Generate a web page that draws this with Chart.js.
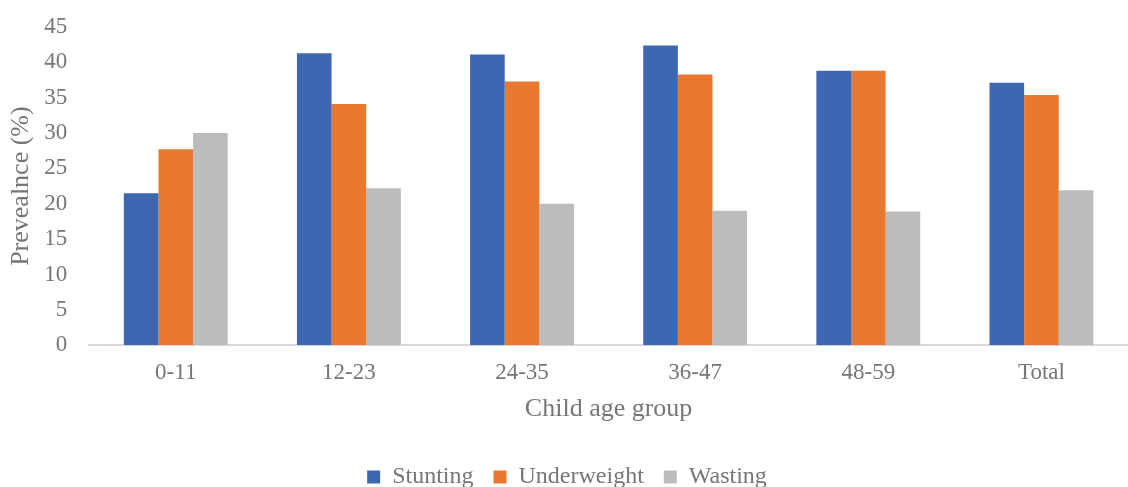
<!DOCTYPE html>
<html>
<head>
<meta charset="utf-8">
<script src="https://cdn.jsdelivr.net/npm/chart.js@4"></script>
<style>
  html, body { margin: 0; padding: 0; background: #ffffff; }
  #wrap { width: 1128px; height: 487px; position: relative; }
</style>
</head>
<body>
<div id="wrap"><canvas id="chart"></canvas></div>
<script>
// Prevalence of malnutrition by child age group (months)
const ageGroups = ['0-11', '12-23', '24-35', '36-47', '48-59', 'Total'];
const stunting = [21.5, 41.3, 41.1, 42.4, 38.8, 37.1];
const underweight = [27.7, 34.1, 37.3, 38.3, 38.8, 35.4];
const wasting = [30.0, 22.2, 20.0, 19.0, 18.9, 21.9];

const textColor = '#767676';
const fontFamily = '"Liberation Serif", "Times New Roman", serif';

new Chart(document.getElementById('chart'), {
  type: 'bar',
  data: {
    labels: ageGroups,
    datasets: [
      { label: 'Stunting', data: stunting, backgroundColor: '#3D67B0' },
      { label: 'Underweight', data: underweight, backgroundColor: '#E8792F' },
      { label: 'Wasting', data: wasting, backgroundColor: '#BBBCBE' }
    ]
  },
  options: {
    responsive: true,
    maintainAspectRatio: false,
    animation: false,
    datasets: { bar: { categoryPercentage: 0.6, barPercentage: 1.0 } },
    layout: { padding: { top: 0, right: 0, bottom: -12, left: 6 } },
    plugins: {
      tooltip: { enabled: false },
      legend: {
        position: 'bottom',
        labels: {
          color: textColor,
          font: { family: fontFamily, size: 24 },
          boxWidth: 13,
          boxHeight: 13,
          padding: 20
        }
      }
    },
    scales: {
      x: {
        grid: { display: false, drawTicks: false },
        border: { display: true, color: '#D9D9D9', width: 2 },
        ticks: { color: textColor, font: { family: fontFamily, size: 23 }, padding: 14 },
        title: {
          display: true,
          text: 'Child age group',
          color: textColor,
          font: { family: fontFamily, size: 26 },
          padding: { top: -7, bottom: 20 }
        }
      },
      y: {
        min: 0,
        max: 45,
        grid: { display: false, drawTicks: false },
        border: { display: false },
        ticks: { stepSize: 5, color: textColor, font: { family: fontFamily, size: 23 }, padding: 22 },
        title: {
          display: true,
          text: 'Prevealnce (%)',
          color: textColor,
          font: { family: fontFamily, size: 26 },
          padding: { top: 0, bottom: -15 }
        },
        // keep only room for half of the top tick label above the plot
        afterFit: (scale) => { scale.paddingTop = 27; }
      }
    }
  }
});
</script>
</body>
</html>
